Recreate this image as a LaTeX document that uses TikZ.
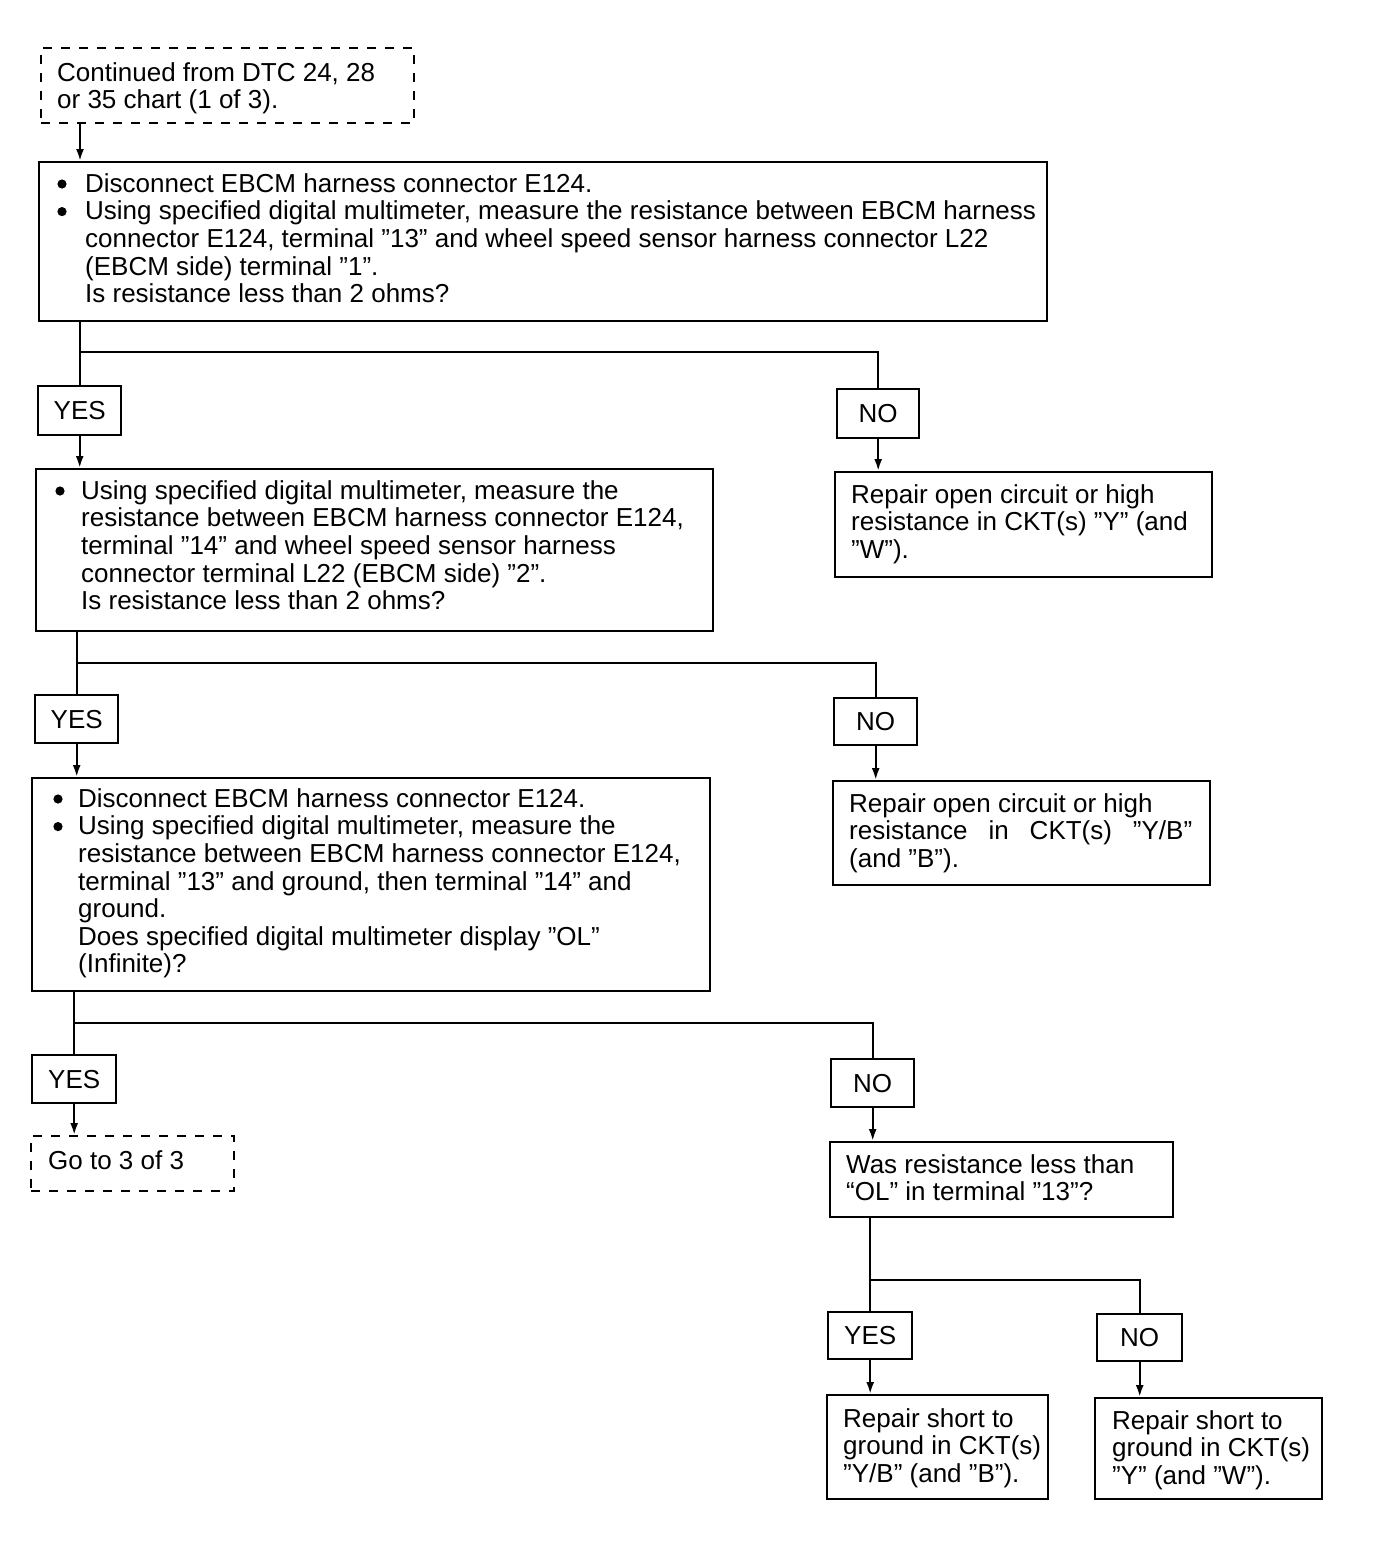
\documentclass[tikz,border=0pt]{standalone}
\usepackage{fontspec}
\setmainfont{Liberation Sans}
\usetikzlibrary{arrows.meta,calc}
\newcommand{\mystrut}{\rule{0pt}{22pt}}
\tikzset{
  box/.style={draw, line width=2.4pt, inner sep=0pt, anchor=north west},
  dbox/.style={draw, line width=1.8pt, dash pattern=on 9pt off 9pt, inner sep=0pt, anchor=north west},
  lab/.style={draw, line width=2.4pt, inner sep=0pt, anchor=north west, font=\fontsize{26}{27.6}\selectfont},
  txt/.style={inner sep=0pt, anchor=north west, align=left, font=\fontsize{26}{27.6}\selectfont},
  conn/.style={line width=2.2pt},
  arr/.style={line width=2.2pt, -{Latex[length=12pt,width=8pt]}},
  dot/.style={fill=black}
}
\begin{document}
\begin{tikzpicture}[x=1pt,y=-1pt]
\useasboundingbox[fill=white] (0,0) rectangle (1376,1558);
% boxes
\node[dbox, minimum width=373pt, minimum height=75pt] (A) at (40,47) {};
\node[box, minimum width=1008pt, minimum height=159pt] (B) at (38,161) {};
\node[lab, minimum width=83pt, minimum height=49pt] (Y1) at (37,385) {YES};
\node[lab, minimum width=82pt, minimum height=49pt] (N1) at (836,388) {NO};
\node[box, minimum width=677pt, minimum height=162pt] (C) at (35,468) {};
\node[box, minimum width=377pt, minimum height=105pt] (D) at (834,471) {};
\node[lab, minimum width=83pt, minimum height=48pt] (Y2) at (34,694) {YES};
\node[lab, minimum width=83pt, minimum height=47pt] (N2) at (833,697) {NO};
\node[box, minimum width=678pt, minimum height=213pt] (E) at (31,777) {};
\node[box, minimum width=377pt, minimum height=104pt] (F) at (832,780) {};
\node[lab, minimum width=84pt, minimum height=48pt] (Y3) at (31,1054) {YES};
\node[lab, minimum width=83pt, minimum height=48pt] (N3) at (830,1058) {NO};
\node[dbox, minimum width=203pt, minimum height=55pt] (G) at (30,1135) {};
\node[box, minimum width=343pt, minimum height=75pt] (H) at (829,1141) {};
\node[lab, minimum width=84pt, minimum height=47pt] (Y4) at (827,1311) {YES};
\node[lab, minimum width=85pt, minimum height=47pt] (N4) at (1096,1313) {NO};
\node[box, minimum width=221pt, minimum height=104pt] (I) at (826,1394) {};
\node[box, minimum width=227pt, minimum height=101pt] (J) at (1094,1397) {};
% bullets
\fill[dot] (62,184) circle (4.6pt);
\fill[dot] (62,211.6) circle (4.6pt);
\fill[dot] (60,491) circle (4.6pt);
\fill[dot] (58,799) circle (4.6pt);
\fill[dot] (58,826.6) circle (4.6pt);
% texts
\node[txt] (tA) at (57,59) {\mystrut Continued from DTC 24, 28\\or 35 chart (1 of 3).};
\node[txt] (tB) at (85,170) {\mystrut Disconnect EBCM harness connector E124.\\
Using specified digital multimeter, measure the resistance between EBCM harness\\
connector E124, terminal ”13” and wheel speed sensor harness connector L22\\
(EBCM side) terminal ”1”.\\
Is resistance less than 2 ohms?};
\node[txt] (tC) at (81,477) {\mystrut Using specified digital multimeter, measure the\\
resistance between EBCM harness connector E124,\\
terminal ”14” and wheel speed sensor harness\\
connector terminal L22 (EBCM side) ”2”.\\
Is resistance less than 2 ohms?};
\node[txt] (tD) at (851,481) {\mystrut Repair open circuit or high\\
resistance in CKT(s) ”Y” (and\\
”W”).};
\node[txt] (tE) at (78,785) {\mystrut Disconnect EBCM harness connector E124.\\
Using specified digital multimeter, measure the\\
resistance between EBCM harness connector E124,\\
terminal ”13” and ground, then terminal ”14” and\\
ground.\\
Does specified digital multimeter display ”OL”\\
(Infinite)?};
\node[txt] (tF) at (849,790) {\mystrut Repair open circuit or high\\
\makebox[343pt][s]{resistance in CKT(s) ”Y/B”}\\
(and ”B”).};
\node[txt] (tG) at (48,1147) {\mystrut Go to 3 of 3};
\node[txt] (tH) at (846,1151) {\mystrut Was resistance less than\\
“OL” in terminal ”13”?};
\node[txt] (tI) at (843,1405) {\mystrut Repair short to\\
ground in CKT(s)\\
”Y/B” (and ”B”).};
\node[txt] (tJ) at (1112,1407) {\mystrut Repair short to\\
ground in CKT(s)\\
”Y” (and ”W”).};
% junctions
\coordinate (j1) at (0,352);
\coordinate (j2) at (0,663);
\coordinate (j3) at (0,1023);
\coordinate (j4) at (0,1280);
\coordinate (a0) at ($(A.south west)+(40,0)$);
% connectors
\draw[arr] (a0) -- (a0 |- B.north);
\draw[conn] (Y1 |- B.south) -- (Y1.north);
\draw[conn] (Y1 |- j1) -| (N1.north);
\draw[arr] (Y1.south) -- (Y1.south |- C.north);
\draw[arr] (N1.south) -- (N1.south |- D.north);
\draw[conn] (Y2 |- C.south) -- (Y2.north);
\draw[conn] (Y2 |- j2) -| (N2.north);
\draw[arr] (Y2.south) -- (Y2.south |- E.north);
\draw[arr] (N2.south) -- (N2.south |- F.north);
\draw[conn] (Y3 |- E.south) -- (Y3.north);
\draw[conn] (Y3 |- j3) -| (N3.north);
\draw[arr] (Y3.south) -- (Y3.south |- G.north);
\draw[arr] (N3.south) -- (N3.south |- H.north);
\draw[conn] (Y4 |- H.south) -- (Y4.north);
\draw[conn] (Y4 |- j4) -| (N4.north);
\draw[arr] (Y4.south) -- (Y4.south |- I.north);
\draw[arr] (N4.south) -- (N4.south |- J.north);
\end{tikzpicture}
\end{document}
